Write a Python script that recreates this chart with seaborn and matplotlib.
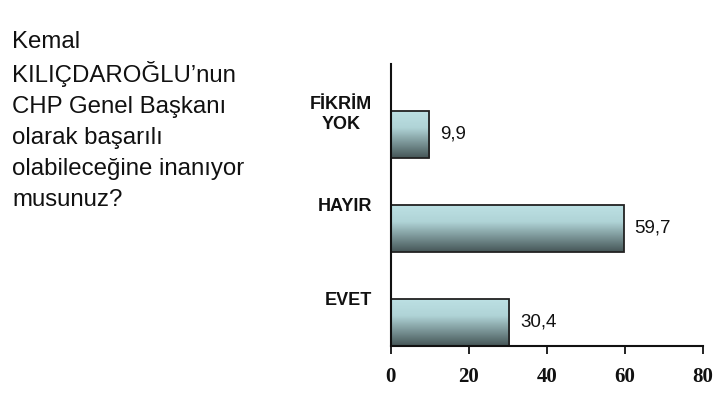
import matplotlib
matplotlib.use("Agg")
import matplotlib.pyplot as plt
from matplotlib.colors import LinearSegmentedColormap
import numpy as np
import pandas as pd
import seaborn as sns

# data
categories = ["FİKRİM\nYOK", "HAYIR", "EVET"]
values = [9.9, 59.7, 30.4]
x_ticks = [0, 20, 40, 60, 80]
question_lines = ["Kemal", "KILIÇDAROĞLU’nun", "CHP Genel Başkanı",
                  "olarak başarılı", "olabileceğine inanıyor", "musunuz?"]

df = pd.DataFrame({"cevap": categories, "oran": values})

sns.set_style("white")
plt.rcParams["font.family"] = ["Liberation Sans", "DejaVu Sans"]

fig = plt.figure(figsize=(7.26, 4.04), dpi=100)
ax = fig.add_axes([0.538, 0.1436, 0.430, 0.698])

sns.barplot(data=df, x="oran", y="cevap", order=categories, orient="h",
            width=0.5, color="#b6dcdf", ax=ax)

# bars sit in the lower half of each category band, gradient fill
grad = LinearSegmentedColormap.from_list(
    "bar", [(0, "#bce0e3"), (0.35, "#b0d4d7"), (1, "#465758")])
g = np.linspace(0, 1, 64).reshape(-1, 1)
for p in ax.patches:
    p.set_y(p.get_y() + 0.25)
    x0, y0, w, h = p.get_x(), p.get_y(), p.get_width(), p.get_height()
    p.set_facecolor("none")
    p.set_edgecolor("#222222")
    p.set_linewidth(1.3)
    im = ax.imshow(g, cmap=grad, aspect="auto", origin="upper",
                   extent=(x0, x0 + w, y0 + h, y0), zorder=1)
    im.set_clip_path(p)
    p.set_zorder(2)

labels = [f"{v:.1f}".replace(".", ",") for v in values]
ax.bar_label(ax.containers[0], labels=labels, padding=8, fontsize=13.5,
             color="#111111")

ax.set_xlim(0, 80)
ax.set_ylim(2.5, -0.5)
ax.set_xticks(x_ticks)
ax.set_xticklabels([str(t) for t in x_ticks], family="Liberation Serif",
                   fontweight="bold", fontsize=15)
ax.set_yticks(range(len(categories)))
ax.set_yticklabels(categories, fontweight="bold", fontsize=13,
                   multialignment="center")
ax.set_yticks([-0.5, 0.5, 1.5, 2.5], minor=True)
ax.tick_params(axis="y", which="major", length=0, pad=13.5, labelcolor="#111111")
ax.tick_params(axis="y", which="minor", length=6, width=1.3, direction="out",
               color="#111111")
ax.tick_params(axis="x", length=6, width=1.3, direction="out", pad=9,
               color="#111111", labelcolor="#111111", bottom=True)
ax.set_xlabel("")
ax.set_ylabel("")

sns.despine(ax=ax)
for s in ["left", "bottom"]:
    ax.spines[s].set_linewidth(1.5)
    ax.spines[s].set_color("#111111")

# question text, one line at a time for even spacing
baselines = [48, 82, 113, 144, 175, 206]
for line, yb in zip(question_lines, baselines):
    fig.text(0.0165, 1 - yb / 404, line, fontsize=17.3, va="baseline",
             ha="left", color="#111111")

fig.savefig("out.png", dpi=100)
